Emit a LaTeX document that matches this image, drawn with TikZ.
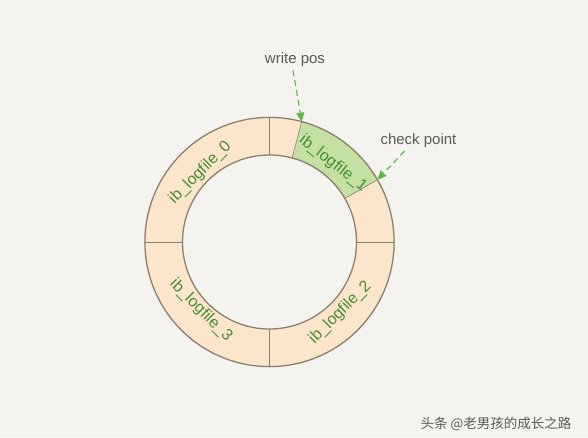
\documentclass[tikz,border=0pt]{standalone}
\usepackage{fontspec}
\setmainfont{Liberation Sans}
\newfontfamily\cjk{Noto Sans CJK SC}
\usetikzlibrary{arrows.meta}
\definecolor{bg}{RGB}{244,243,239}
\definecolor{peach}{RGB}{251,229,203}
\definecolor{lgreen}{RGB}{196,224,162}
\definecolor{rim}{RGB}{140,127,110}
\definecolor{gtext}{RGB}{72,140,52}
\definecolor{garrow}{RGB}{93,187,74}
\definecolor{ltext}{RGB}{90,90,90}
\begin{document}
\begin{tikzpicture}[x=1pt,y=1pt,
  ringlabel/.style={text=gtext,font=\fontsize{16}{16}\selectfont,inner sep=0pt},
  calllabel/.style={text=ltext,font=\fontsize{15}{15}\selectfont,inner sep=1pt},
  callarrow/.style={garrow,line width=1.2pt,dash pattern=on 6pt off 4pt,
    -{Triangle[width=8pt,length=9pt]}},
  rimline/.style={rim,line width=1.3pt}]
\useasboundingbox[fill=bg] (-269.5,-195) rectangle (318.5,242);
\def\Ro{124.6}
\def\Ri{87}
% peach ring
\fill[peach,even odd rule] (0,0) circle[radius=\Ro] (0,0) circle[radius=\Ri];
% green segment
\fill[lgreen] (30:\Ro) arc[start angle=30,end angle=75,radius=\Ro]
  -- (75:\Ri) arc[start angle=75,end angle=30,radius=\Ri] -- cycle;
\draw[rim,line width=0.6pt] (30:\Ri) -- (30:\Ro) (75:\Ri) -- (75:\Ro);
% outlines
\draw[rimline] (0,0) circle[radius=\Ro];
\draw[rimline] (0,0) circle[radius=\Ri];
\foreach \a in {0,90,180,270}{\draw[rim,line width=1pt] (\a:\Ri) -- (\a:\Ro);}
% labels on ring
\node[ringlabel,rotate=45] (f0) at (135:98) {ib\_logfile\_0};
\node[ringlabel,rotate=-38] (f1) at (51:101) {ib\_logfile\_1};
\node[ringlabel,rotate=45] (f2) at (315:100) {ib\_logfile\_2};
\node[ringlabel,rotate=-45] (f3) at (225:97) {ib\_logfile\_3};
% callouts
\coordinate (wp) at (75:\Ro);
\coordinate (cp) at (30:\Ro);
\node[calllabel] (wpl) at (25.5,182) {write pos};
\node[calllabel] (cpl) at (149,101) {check point};
\draw[callarrow] (wpl.south) ++(-2,-2) -- (wp);
\draw[callarrow] (cpl.south) ++(-14,-2) -- (cp);
% watermark
\node[text=ltext,font=\cjk\fontsize{13.5}{13.5}\selectfont,inner sep=0pt] (wm) at (226.5,-182) {头条 @老男孩的成长之路};
\end{tikzpicture}
\end{document}
